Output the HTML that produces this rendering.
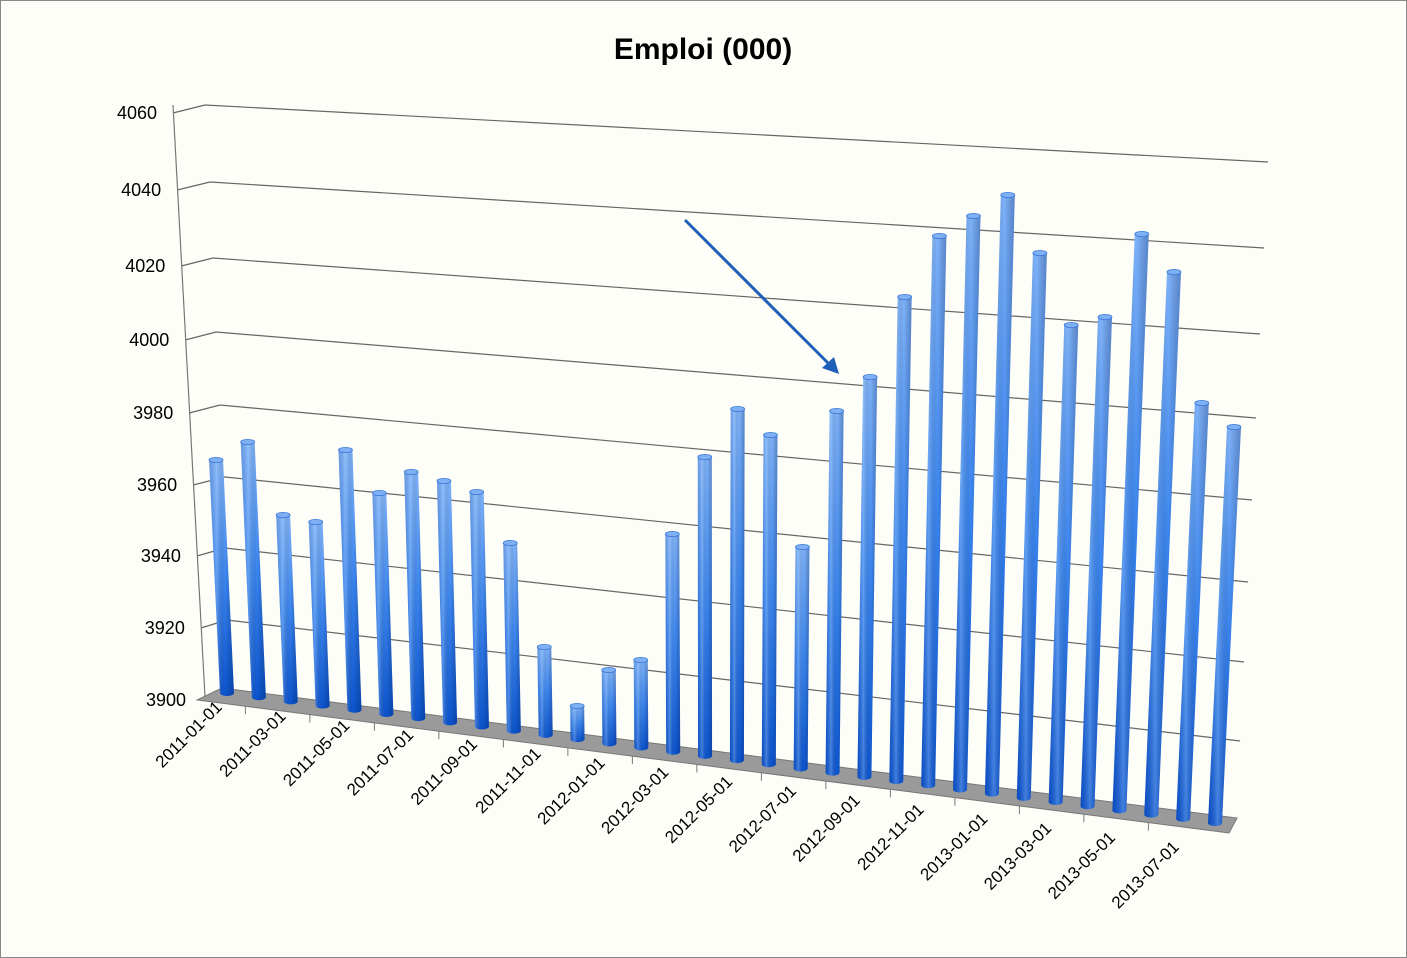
<!DOCTYPE html>
<html><head><meta charset="utf-8"><style>
html,body{margin:0;padding:0;background:#fefef9;}
svg{display:block;font-family:"Liberation Sans",sans-serif;}
</style></head><body>
<svg width="1407" height="958" viewBox="0 0 1407 958">
<defs>
<linearGradient id="v" x1="0" y1="0" x2="0" y2="1">
<stop offset="0" stop-color="#7fb3fa"/><stop offset="0.5" stop-color="#3b86f0"/><stop offset="1" stop-color="#0c55d0"/>
</linearGradient>
<linearGradient id="h" x1="0" y1="0" x2="1" y2="0">
<stop offset="0" stop-color="#001a60" stop-opacity="0.15"/><stop offset="0.3" stop-color="#bfe0ff" stop-opacity="0.3"/><stop offset="0.65" stop-color="#000" stop-opacity="0"/><stop offset="1" stop-color="#001a60" stop-opacity="0.3"/>
</linearGradient>
</defs>
<rect x="0.5" y="0.5" width="1406" height="957" fill="#fefef9" stroke="#888"/>
<text x="703" y="59" font-size="30" font-weight="bold" text-anchor="middle" fill="#000">Emploi (000)</text>
<g id="grid" stroke="#666" stroke-width="1.2" fill="none"></g>
<polygon points="222,688 1237,818 1229,833 197,700" fill="#9a9a9a" stroke="#777"/>
<line x1="173" y1="105" x2="205" y2="697" stroke="#777" stroke-width="1.2"/>
<g id="bars"></g>
<g id="lbl" font-size="17" fill="#000"></g>
<line x1="685" y1="220" x2="832" y2="367" stroke="#1f5fb8" stroke-width="3"/>
<polygon points="839,374 822,368 834,357" fill="#1f5fb8"/>
</svg>
<script>
var NS="http://www.w3.org/2000/svg";
function el(t,a,p){var e=document.createElementNS(NS,t);for(var k in a)e.setAttribute(k,a[k]);p.appendChild(e);return e;}
var grid=document.getElementById('grid'),bars=document.getElementById('bars'),lbl=document.getElementById('lbl');
var L=[[4060,105,190],[4040,182,195],[4020,258,198],[4000,332,201],[3980,405,205],[3960,477,210],[3940,548,210],[3920,620,212]];
var R=[162,248,334,418,500,582,662,741];
var svg=document.querySelector('svg');
for(var i=0;i<L.length;i++){
 var y=L[i][1],ax=173+(y-105)*32/592;
 el('line',{x1:ax,y1:y+8,x2:L[i][2]+15,y2:y},grid);
 el('line',{x1:L[i][2]+15,y1:y,x2:1268-(i*4),y2:R[i]},grid);
 var t=el('text',{x:ax-16,y:y+14,'font-size':18,'text-anchor':'end'},svg);t.textContent=L[i][0];
}
var t=el('text',{x:186,y:706,'font-size':18,'text-anchor':'end'},svg);t.textContent='3900';
var tops=[460,442,515,522,450,493,472,481,492,543,647,706,670,660,534,457,409,435,547,411,377,297,236,216,195,253,325,317,234,272,403,427];
for(var i=0;i<32;i++){
 var bx=227+i*(1215-227)/31,by=693+i*(823-693)/31,ty=tops[i];
 var k=0.047-i*0.095/31,tx=bx+(ty-by)*k,w=14;
 var p='M'+(tx-w/2)+','+ty+' L'+(bx-w/2)+','+by+' A'+(w/2)+',3 0 0 0 '+(bx+w/2)+','+by+' L'+(tx+w/2)+','+ty+' Z';
 el('path',{d:p,fill:'url(#v)'},bars);
 el('path',{d:p,fill:'url(#h)'},bars);
 el('ellipse',{cx:tx,cy:ty,rx:w/2,ry:2.6,fill:'#7fb0f4',stroke:'#3a78d8','stroke-width':0.8},bars);
}
var names=['2011-01-01','2011-03-01','2011-05-01','2011-07-01','2011-09-01','2011-11-01','2012-01-01','2012-03-01','2012-05-01','2012-07-01','2012-09-01','2012-11-01','2013-01-01','2013-03-01','2013-05-01','2013-07-01'];
for(var j=0;j<16;j++){
 var ex=223+j*(1180-223)/15,ey=708+j*(848-708)/15;
 var tt=el('text',{x:ex,y:ey,'text-anchor':'end',transform:'rotate(-45 '+ex+' '+ey+')'},lbl);tt.textContent=names[j];
 var tx2=197+(j*2+1.5)*(1229-197)/32, ty2=700+(j*2+1.5)*(833-700)/32;
 if(j<15) el('line',{x1:tx2,y1:ty2,x2:tx2,y2:ty2+8,stroke:'#777'},svg);
}
</script>
</body></html>
